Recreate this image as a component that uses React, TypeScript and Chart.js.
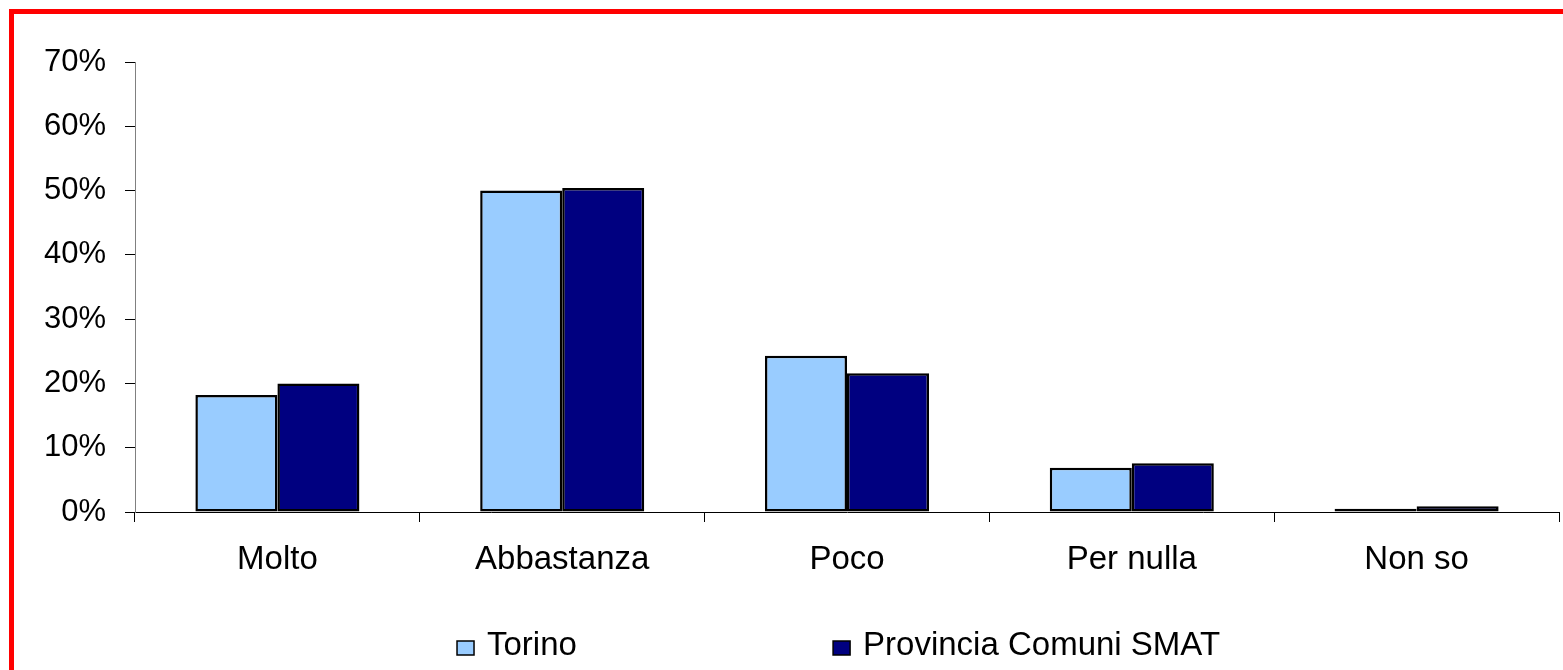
import React, { useEffect, useRef } from "react";
import { Chart, registerables } from "chart.js";

Chart.register(...registerables);

const categories = ["Molto", "Abbastanza", "Poco", "Per nulla", "Non so"];
const torino = [18.2, 50.0, 24.3, 6.9, 0.5];
const provincia = [20.0, 50.4, 21.6, 7.6, 0.9];
const seriesNames = ["Torino", "Provincia Comuni SMAT"];
const seriesColors = ["#99CCFF", "#000080"];

const FONT = "'Liberation Sans', Arial, sans-serif";

const legendPlugin = {
  id: "customLegend",
  afterDraw(chart: any) {
    const ctx = chart.ctx;
    const w = chart.width;
    const starts = [w * 0.2924, w * 0.533];
    ctx.save();
    ctx.font = `33px ${FONT}`;
    ctx.textBaseline = "alphabetic";
    ctx.textAlign = "left";
    seriesNames.forEach((name, i) => {
      const x = starts[i];
      const baseline = 655;
      ctx.fillStyle = seriesColors[i];
      ctx.fillRect(x, baseline - 14, 17, 14);
      ctx.lineWidth = 1.5;
      ctx.strokeStyle = "#000";
      ctx.strokeRect(x, baseline - 14, 17, 14);
      ctx.fillStyle = "#000";
      ctx.fillText(name, x + 30, baseline);
    });
    ctx.restore();
  },
};

export default function App() {
  const ref = useRef<HTMLCanvasElement | null>(null);
  useEffect(() => {
    if (!ref.current) return;
    const chart = new Chart(ref.current, {
      type: "bar",
      data: {
        labels: categories,
        datasets: [
          {
            label: seriesNames[0],
            data: torino,
            backgroundColor: seriesColors[0],
            borderColor: "#000",
            borderWidth: 2.5,
            borderSkipped: false,
            categoryPercentage: 0.576,
            barPercentage: 1,
          },
          {
            label: seriesNames[1],
            data: provincia,
            backgroundColor: seriesColors[1],
            borderColor: "#000",
            borderWidth: 2.5,
            borderSkipped: false,
            categoryPercentage: 0.576,
            barPercentage: 1,
          },
        ],
      },
      options: {
        animation: false,
        responsive: false,
        maintainAspectRatio: false,
        layout: { padding: { left: 0, right: 4, top: 62, bottom: 0 } },
        plugins: {
          legend: { display: false },
          tooltip: { enabled: false },
        },
        scales: {
          x: {
            grid: {
              display: true,
              drawOnChartArea: false,
              tickLength: 10,
              color: "#000",
              offset: true,
            },
            border: { display: true, color: "#000", width: 1 },
            ticks: {
              color: "#000",
              font: { family: FONT, size: 33 },
              padding: 18,
              maxRotation: 0,
              autoSkip: false,
            },
            afterFit: (s: any) => {
              s.height = 158;
            },
          },
          y: {
            min: 0,
            max: 70,
            grid: {
              display: true,
              drawOnChartArea: false,
              tickLength: 10,
              color: "#000",
            },
            border: { display: true, color: "#808080", width: 1 },
            ticks: {
              stepSize: 10,
              color: "#000",
              font: { family: FONT, size: 31 },
              padding: 19,
              callback: (v: any) => `${v}%`,
            },
            afterFit: (s: any) => {
              s.width = 135;
            },
          },
        },
      },
      plugins: [legendPlugin],
    });
    return () => chart.destroy();
  }, []);

  return (
    <div
      style={{
        position: "fixed",
        left: 0,
        top: 0,
        width: 1563,
        height: 670,
        overflow: "hidden",
        background: "#fff",
      }}
    >
      <div
        style={{
          position: "absolute",
          left: 9,
          top: 9,
          width: 1700,
          height: 800,
          border: "5px solid #FF0000",
          boxSizing: "border-box",
        }}
      />
      <canvas
        ref={ref}
        width={1563}
        height={670}
        style={{ position: "absolute", left: 0, top: 0, width: 1563, height: 670 }}
      />
    </div>
  );
}
